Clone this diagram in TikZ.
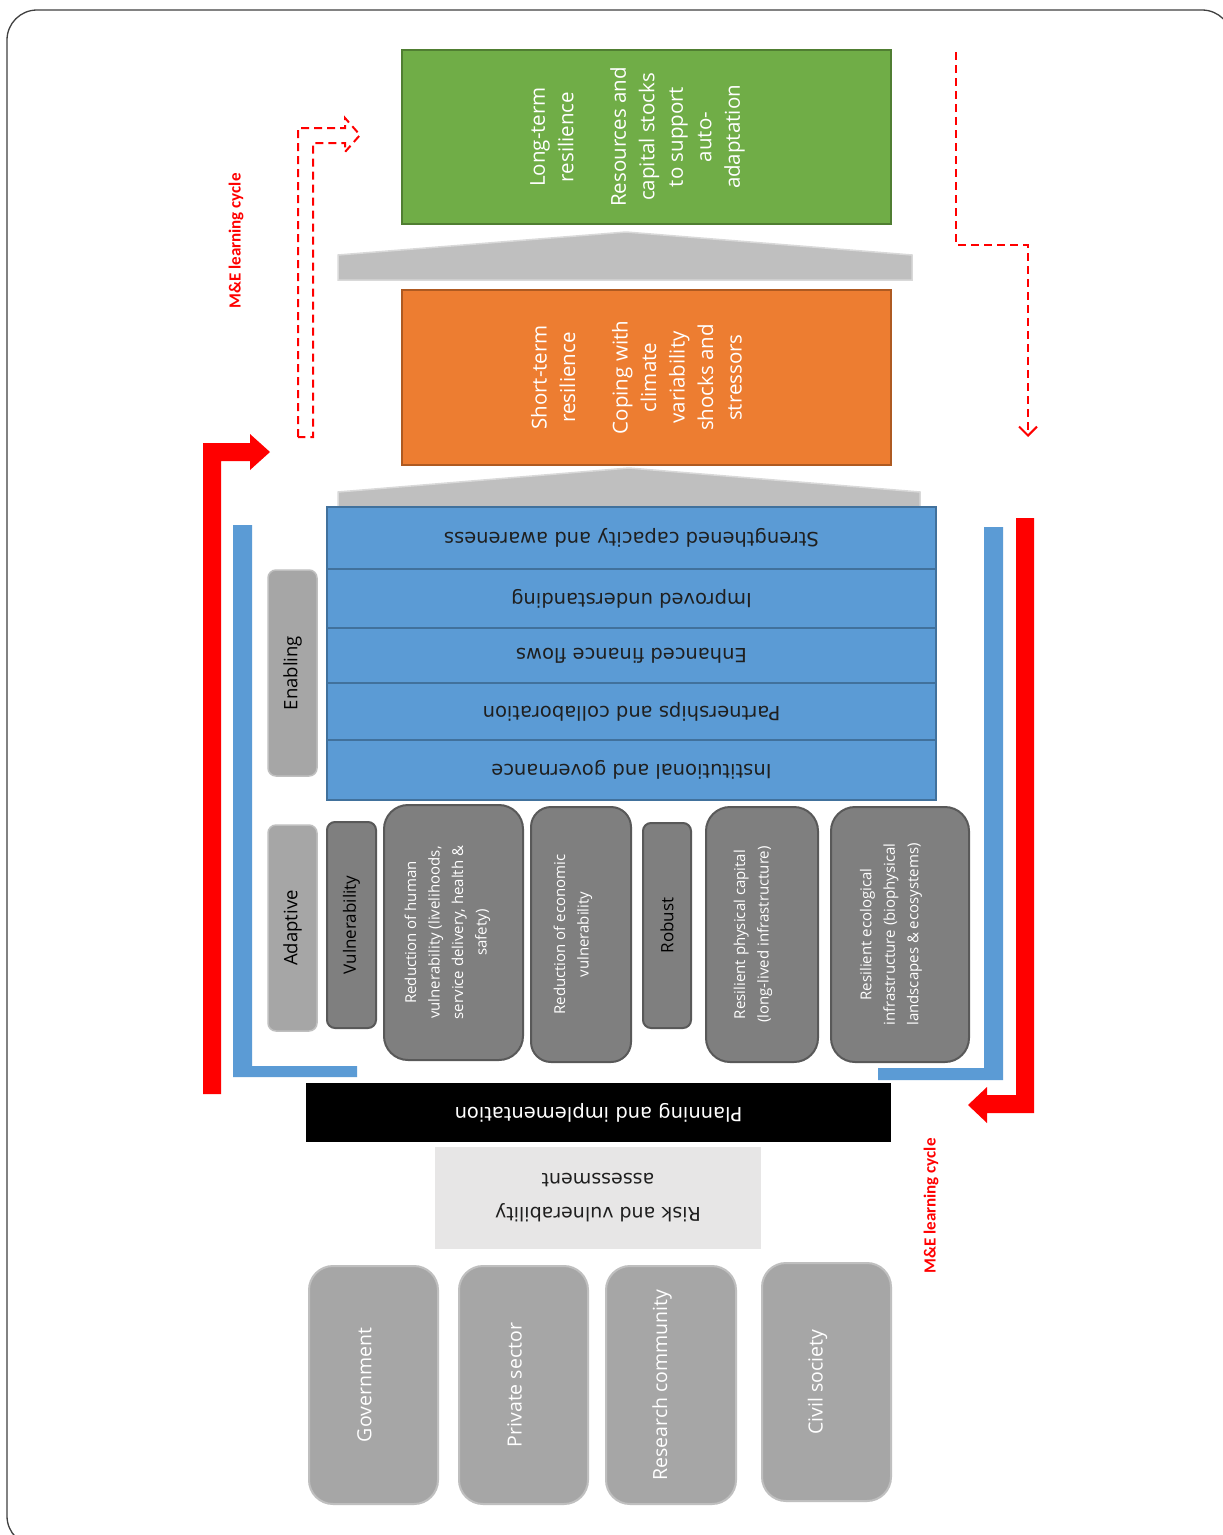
\documentclass[tikz,border=0pt]{standalone}
\usepackage{fontspec}
\setmainfont{Open Sans}
\newfontfamily\dejavu{DejaVu Sans}
\newfontfamily\carlito{Carlito}
\usetikzlibrary{arrows.meta}

\definecolor{grn}{HTML}{70AD47}
\definecolor{grnline}{HTML}{507E32}
\definecolor{org}{HTML}{ED7D31}
\definecolor{orgline}{HTML}{AE5A21}
\definecolor{blu}{HTML}{5B9BD5}
\definecolor{bluline}{HTML}{41719C}
\definecolor{dgray}{HTML}{7F7F7F}
\definecolor{dgrayline}{HTML}{595959}
\definecolor{mgray}{HTML}{A6A6A6}
\definecolor{lgrayline}{HTML}{BFBFBF}
\definecolor{chev}{HTML}{BFBFBF}
\definecolor{chevline}{HTML}{D9D9D9}
\definecolor{riskfill}{HTML}{E7E6E6}
\definecolor{redc}{HTML}{FF0000}
\definecolor{textdark}{HTML}{1F1F1F}
\definecolor{frameline}{HTML}{404040}

\begin{document}
\begin{tikzpicture}[x=1pt,y=-1pt,
  every node/.style={inner sep=0pt, outer sep=0pt},
  outcome/.style={draw, line width=2pt, rotate=90},
  outcometext/.style={rotate=90, align=center, text=white,
    font=\fontsize{20.5}{28.5}\selectfont},
  chevron/.style={fill=chev, draw=chevline, line width=1.5pt},
  band/.style={draw=bluline, fill=blu, line width=2pt, rotate=180,
    minimum width=609pt, text=textdark, font=\dejavu\fontsize{19.5}{23}\selectfont},
  category/.style={fill=mgray, draw=lgrayline, line width=1.5pt, rounded corners=8pt,
    rotate=90, minimum width=206pt, minimum height=49pt, text=black,
    font=\fontsize{18.5}{22}\selectfont},
  tag/.style={fill=dgray, draw=dgrayline, line width=2pt, rounded corners=8pt,
    rotate=90, minimum width=206pt, minimum height=49pt, text=black,
    font=\fontsize{17}{21}\selectfont},
  measure/.style={fill=dgray, draw=dgrayline, line width=2pt, rounded corners=24pt,
    rotate=90, minimum width=255pt},
  measuretext/.style={rotate=90, align=center, text=white,
    font=\fontsize{15}{23.5}\selectfont},
  actor/.style={fill=mgray, draw=lgrayline, line width=2pt, rounded corners=24pt,
    rotate=90, minimum width=238pt, minimum height=129pt},
  actortext/.style={rotate=90, text=white, font=\fontsize{19.5}{24}\selectfont},
  cycletext/.style={rotate=90, text=redc, font=\carlito\bfseries\fontsize{17}{20}\selectfont},
  solidarrow/.style={fill=redc},
  bracket/.style={fill=blu},
  dashedred/.style={draw=redc, line width=2pt, dash pattern=on 8pt off 5pt}
]
\useasboundingbox (0,0) rectangle (1223,1535);
\fill[white] (0,0) rectangle (1223,1535);

% page frame
\draw[frameline, line width=1.3pt, rounded corners=30pt] (7,10) rectangle (1232,1546);

% upward chevrons between the levels
\draw[chevron] (338,255) -- (626,232) -- (912,255) -- (912,280) -- (338,280) -- cycle;
\draw[chevron] (338,492) -- (629,468) -- (920,492) -- (920,515) -- (338,515) -- cycle;

% resilience outcomes
\node[outcome, draw=grnline, fill=grn, minimum width=174pt, minimum height=489pt]
  (longterm) at (646.5,137) {};
\node[outcometext] (longtermtext) at ([xshift=-9pt]longterm.center)
  {Long-term\\resilience\\[24pt]Resources and\\capital stocks\\to support\\auto-\\adaptation};
\node[outcome, draw=orgline, fill=org, minimum width=175pt, minimum height=489pt]
  (shortterm) at (646.5,377.5) {};
\node[outcometext] (shorttermtext) at ([xshift=-10pt]shortterm.center)
  {Short-term\\resilience\\[24pt]Coping with\\climate\\variability\\shocks and\\stressors};

% enabling conditions
\node[band, minimum height=62pt] (capacity) at (631.5,538) {Strengthened capacity and awareness};
\node[band, minimum height=59pt] (understanding) at (631.5,598.5) {Improved understanding};
\node[band, minimum height=55pt] (finance) at (631.5,655.5) {Enhanced finance flows};
\node[band, minimum height=57pt] (partner) at (631.5,711.5) {Partnerships and collaboration};
\node[band, minimum height=60pt] (institution) at (631.5,770) {Institutional and governance};

% category labels
\node[category] (enabling) at (292.5,673) {Enabling};
\node[category] (adaptive) at (292.5,928) {Adaptive};

% adaptive and robust measures
\node[tag] (vulner) at (351.5,925) {Vulnerability};
\node[measure, minimum height=139pt] (human) at (453.5,932.5) {};
\node[measuretext] (humantext) at ([xshift=-6pt]human.center)
  {Reduction of human\\vulnerability (livelihoods,\\service delivery, health \&\\safety)};
\node[measure, minimum height=100pt, rounded corners=20pt] (econ) at (581,934.5) {};
\node[measuretext] (econtext) at ([xshift=-8pt]econ.center)
  {Reduction of economic\\vulnerability};
\node[tag, minimum width=205pt, minimum height=48pt] (robust) at (667,925.5) {Robust};
\node[measure, minimum height=112pt] (physical) at (762,934.5) {};
\node[measuretext] (physicaltext) at ([xshift=-9pt]physical.center)
  {Resilient physical capital\\(long-lived infrastructure)};
\node[measure, minimum height=138pt] (ecological) at (900,934.5) {};
\node[measuretext] (ecologicaltext) at ([xshift=-9pt]ecological.center)
  {Resilient ecological\\infrastructure (biophysical\\landscapes \& ecosystems)};

% process steps
\node[fill=black, rotate=180, minimum width=585pt, minimum height=59pt, text=white,
  font=\dejavu\fontsize{19.5}{23}\selectfont] (planning) at (598.5,1112.5)
  {Planning and implementation};
\node[fill=riskfill, rotate=180, minimum width=326pt, minimum height=102pt, align=center,
  text=textdark, font=\dejavu\fontsize{19}{34}\selectfont] (risk) at (598,1198)
  {Risk and vulnerability\\assessment};

% stakeholders
\node[actor] (gov) at (373.5,1385) {};
\node[actortext] (govtext) at ([xshift=-9pt]gov.center) {Government};
\node[actor] (private) at (523.5,1385) {};
\node[actortext] (privatetext) at ([xshift=-9pt]private.center) {Private sector};
\node[actor, minimum height=130pt] (research) at (671,1385) {};
\node[actortext] (researchtext) at ([xshift=-9pt]research.center) {Research community};
\node[actor] (civil) at (826.5,1382) {};
\node[actortext] (civiltext) at ([xshift=-9pt]civil.center) {Civil society};

% blue brackets
\fill[bracket] (233,525) -- (252,525) -- (252,1066) -- (357,1066) -- (357,1077) -- (233,1077) -- cycle;
\fill[bracket] (984,527) -- (1003,527) -- (1003,1068) -- (1003,1080) -- (878,1080) -- (878,1068) -- (984,1068) -- cycle;

% solid red cycle arrows
\fill[solidarrow] (203,1094) -- (203,443) -- (250,443) -- (250,434) -- (270,452)
  -- (250,470) -- (250,461) -- (221,461) -- (221,1094) -- cycle;
\fill[solidarrow] (1016,518) -- (1034,518) -- (1034,1113) -- (987,1113) -- (987,1123)
  -- (968,1105) -- (987,1087) -- (987,1095) -- (1016,1095) -- cycle;

% dashed learning-cycle arrows
\draw[dashedred] (298,437) -- (298,128) -- (345,128) -- (345,118) -- (360,135)
  -- (345,152) -- (345,143) -- (313,143) -- (313,437) -- cycle;
\coordinate (feedstart) at (956,52);
\coordinate (feedbend) at (956,245);
\coordinate (feedend) at (1028,437);
\draw[dashedred, -{Straight Barb[length=9pt,width=18pt]}]
  (feedstart) -- (feedbend) -| (feedend);

% learning-cycle labels
\node[cycletext] (cycleA) at (236,241) {M\&E learning cycle};
\node[cycletext] (cycleB) at (931,1206) {M\&E learning cycle};
\end{tikzpicture}
\end{document}
